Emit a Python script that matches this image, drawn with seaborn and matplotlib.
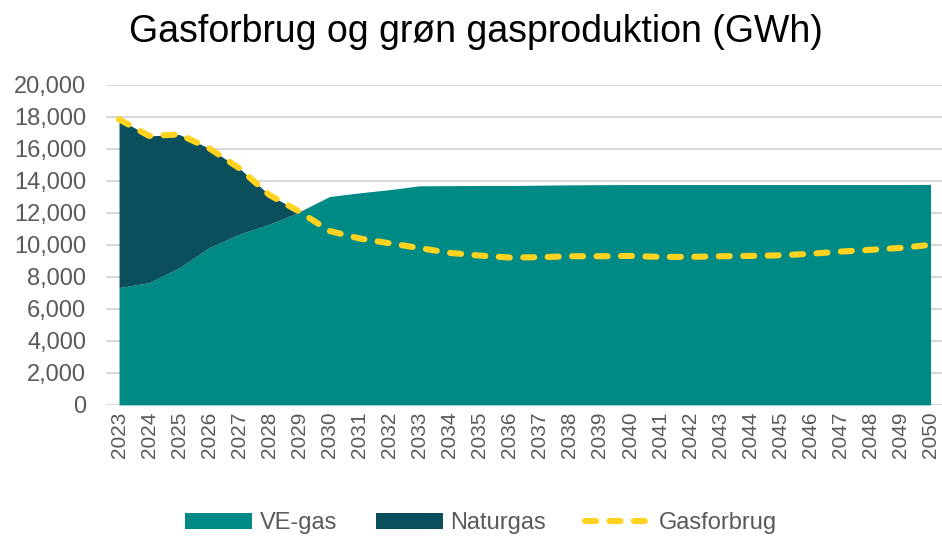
import numpy as np
import pandas as pd
import seaborn as sns
from matplotlib import pyplot as plt
from matplotlib.ticker import FuncFormatter

years = list(range(2023, 2051))
ve_gas = [7330, 7640, 8560, 9830, 10660, 11290, 12040, 13020, 13250, 13450,
          13690, 13700, 13710, 13710, 13730, 13750, 13760, 13770, 13770, 13770,
          13770, 13770, 13770, 13770, 13770, 13770, 13770, 13780]
gasforbrug = [17850, 16810, 16900, 16040, 14790, 13120, 12080, 10870, 10400, 10100,
              9800, 9500, 9330, 9210, 9230, 9290, 9290, 9310, 9250, 9250,
              9290, 9310, 9350, 9440, 9580, 9690, 9810, 10000]
naturgas = [max(f - v, 0) for f, v in zip(gasforbrug, ve_gas)]

df = pd.DataFrame({"year": years, "VE-gas": ve_gas, "Naturgas": naturgas,
                   "Gasforbrug": gasforbrug})

sns.set_theme(style="white")
plt.rcParams["font.family"] = ["Liberation Sans", "DejaVu Sans"]

fig = plt.figure(figsize=(9.42, 5.37), dpi=100)
ax = fig.add_axes([0.112, 0.246, 0.888, 0.596])

c_ve = "#008a85"
c_nat = "#0b4f5c"
c_line = "#ffd320"

ax.stackplot(df["year"], df["VE-gas"], df["Naturgas"], colors=[c_ve, c_nat],
             labels=["VE-gas", "Naturgas"], linewidth=0, zorder=2)
sns.lineplot(data=df, x="year", y="Gasforbrug", ax=ax, color=c_line, lw=4.4,
             linestyle=(0, (1.8, 2.2)), dash_capstyle="round", label="Gasforbrug",
             zorder=3)

ax.set_ylim(0, 20000)
ax.set_xlim(2022.55, 2050.38)
ax.set_yticks(range(0, 20001, 2000))
ax.yaxis.set_major_formatter(FuncFormatter(lambda v, p: f"{int(v):,}"))
ax.set_xticks(years)
ax.set_xticklabels([str(y) for y in years], rotation=90)
ax.grid(axis="y", color="#d9d9d9", lw=1.5, zorder=0)
ax.set_axisbelow(True)
for s in ax.spines.values():
    s.set_visible(False)
ax.tick_params(axis="y", labelsize=17, colors="#595959", length=0, pad=14)
ax.tick_params(axis="x", labelsize=15, colors="#595959", length=0, pad=5)
ax.set_xlabel("")
ax.set_ylabel("")

fig.text(0.505, 0.94, "Gasforbrug og grøn gasproduktion (GWh)", ha="center",
         va="center", fontsize=27, color="black")

handles, labels = ax.get_legend_handles_labels()
ax.legend(handles, labels, loc="center", bbox_to_anchor=(0.449, -0.37),
          ncol=3, frameon=False, fontsize=17, labelcolor="#595959",
          handlelength=2.84, handleheight=0.68, handletextpad=0.3,
          columnspacing=1.65)

fig.savefig("out.png", dpi=100)
